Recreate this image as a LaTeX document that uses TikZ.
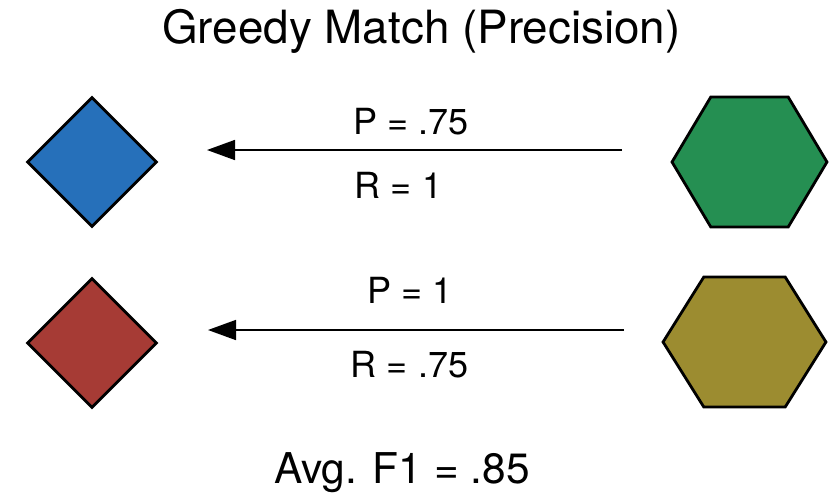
\documentclass[tikz,border=0pt]{standalone}
\usepackage{fontspec}
\setmainfont{TeX Gyre Heros}
\usetikzlibrary{arrows.meta,shapes.geometric}
\definecolor{gemblue}{HTML}{2670BA}
\definecolor{gemred}{HTML}{A63B35}
\definecolor{hexgreen}{HTML}{258F52}
\definecolor{hexolive}{HTML}{9C8C30}

\begin{document}
\begin{tikzpicture}[x=0.5pt,y=-0.5pt,
  gem/.style={diamond,draw,line width=1.4pt,inner sep=0pt,minimum size=65pt},
  hexa/.style={regular polygon,regular polygon sides=6,draw,line width=1.4pt,inner sep=0pt,minimum size=75pt},
  lbl/.style={anchor=base,font=\fontsize{18}{21}\selectfont},
  match/.style={-{Triangle[length=14pt,width=10pt]},line width=0.8pt}]
\useasboundingbox (0,0) rectangle (830,494);
\node[anchor=base,font=\fontsize{22.9}{27}\selectfont] (title) at (421.5,43.5) {Greedy Match (Precision)};
\node[gem,fill=gemblue] (blue) at (92,162) {};
\node[gem,fill=gemred] (red) at (92,343) {};
\node[hexa,fill=hexgreen,xscale=1.033] (green) at (749.5,162) {};
\node[hexa,fill=hexolive,xscale=1.086] (olive) at (744.5,342) {};
\foreach \n/\xs/\xt/\y in {1/622/207/150,2/624/208/330}{
  \coordinate (s\n) at (\xs,\y);
  \coordinate (t\n) at (\xt,\y);
  \draw[match] (s\n) -- (t\n);
}
\node[lbl] (p1) at (411,134) {P = .75};
\node[lbl] (r1) at (398.5,198) {R = 1};
\node[lbl] (p2) at (410,303) {P = 1};
\node[lbl] (r2) at (409.5,377) {R = .75};
\node[anchor=base,font=\fontsize{21.2}{25}\selectfont] (avg) at (402,483) {Avg. F1 = .85};
\end{tikzpicture}
\end{document}
